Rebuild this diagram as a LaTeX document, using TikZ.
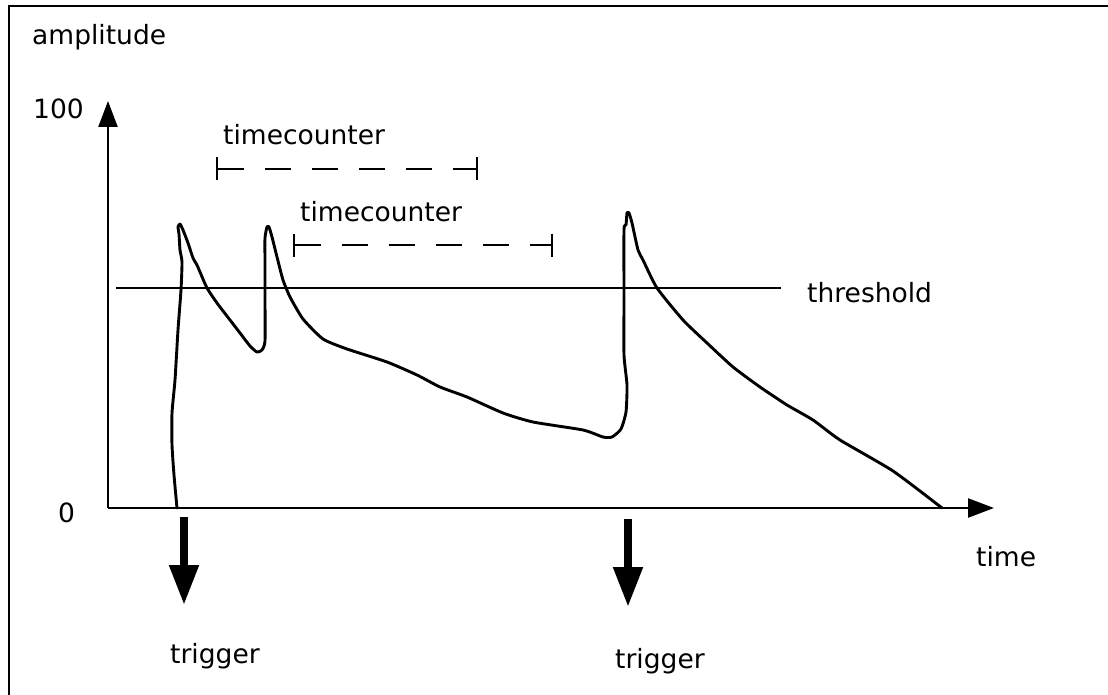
\documentclass[tikz,border=0pt]{standalone}
\usepackage{fontspec}
\setmainfont{DejaVu Sans}
\usetikzlibrary{arrows.meta}
\begin{document}
\begin{tikzpicture}[x=1pt,y=-1pt,
  lbl/.style={anchor=base west,inner sep=0pt,font=\fontsize{26.5}{30}\selectfont},
  axis/.style={line width=2.4pt,-{Triangle[length=26pt,width=19pt]}},
  trig/.style={line width=8pt,-{Triangle[length=40pt,width=28pt]}},
  span/.style={line width=2.4pt,dash pattern=on 26pt off 21pt,
    {Bar[width=23pt,line width=2.4pt]}-{Bar[width=23pt,line width=2.4pt]}},
  signal/.style={line width=2.9pt,line join=round,line cap=round}]
\useasboundingbox (0,0) rectangle (1108,695);
% frame
\draw[line width=2.2pt] (1108,6) -- (9,6) -- (9,695);

% axes
\coordinate (O) at (108,508);
\coordinate (ytop) at (108,101);
\coordinate (xend) at (994,508);
\draw[axis] (O) -- (ytop);
\draw[axis] (O) -- (xend);

\node[lbl] (amp) at (32,45) {amplitude};
\node[lbl] (hundred) at (33,119) {100};
\node[lbl] (zero) at (58,522) {0};
\node[lbl] (time) at (976,566) {time};

% threshold
\coordinate (th1) at (116,288);
\coordinate (th2) at (781,288);
\draw[line width=2.7pt] (th1) -- (th2);
\node[lbl] (thr) at (807,302) {threshold};

% time counters
\node[lbl] (tc1) at (223,145) {timecounter};
\coordinate (tc1a) at (216,169);
\coordinate (tc1b) at (478,169);
\draw[span] (tc1a) -- (tc1b);
\node[lbl] (tc2) at (300,222) {timecounter};
\coordinate (tc2a) at (293,245);
\coordinate (tc2b) at (553,245);
\draw[span] (tc2a) -- (tc2b);

% signal
\draw[signal] plot[smooth,tension=0.35] coordinates {
 (177,508) (174,475) (172,445) (172,413) (175,380) (178,330) (181,290)
 (182,262) (180,250) (179,234) (178,227) (180,224) (183,230) (188,243)
 (193,258) (197,265) (200,272) (207,288) (217,303) (230,320) (240,333)
 (250,346) (257,352) (262,350) (265,341) (265,300) (265,263) (265,238)
 (267,227) (269,227) (272,237) (277,257) (283,280) (290,297) (303,319)
 (323,339) (347,349) (387,362) (417,375) (440,387) (467,397) (503,413)
 (533,422) (583,430) (603,437) (612,437) (621,429) (626,412) (627,385)
 (624,355) (624,300) (624,230) (626,225) (627,213) (629,213) (632,223)
 (638,250) (643,260) (657,288) (683,320) (707,343) (733,367) (760,387)
 (787,405) (813,420) (840,440) (893,471) (942,508)};

% triggers
\coordinate (t1a) at (184,517);
\coordinate (t1b) at (184,605);
\draw[trig] (t1a) -- (t1b);
\node[lbl] (trig1) at (170,663) {trigger};
\coordinate (t2a) at (628,519);
\coordinate (t2b) at (628,607);
\draw[trig] (t2a) -- (t2b);
\node[lbl] (trig2) at (615,668) {trigger};
\end{tikzpicture}
\end{document}
